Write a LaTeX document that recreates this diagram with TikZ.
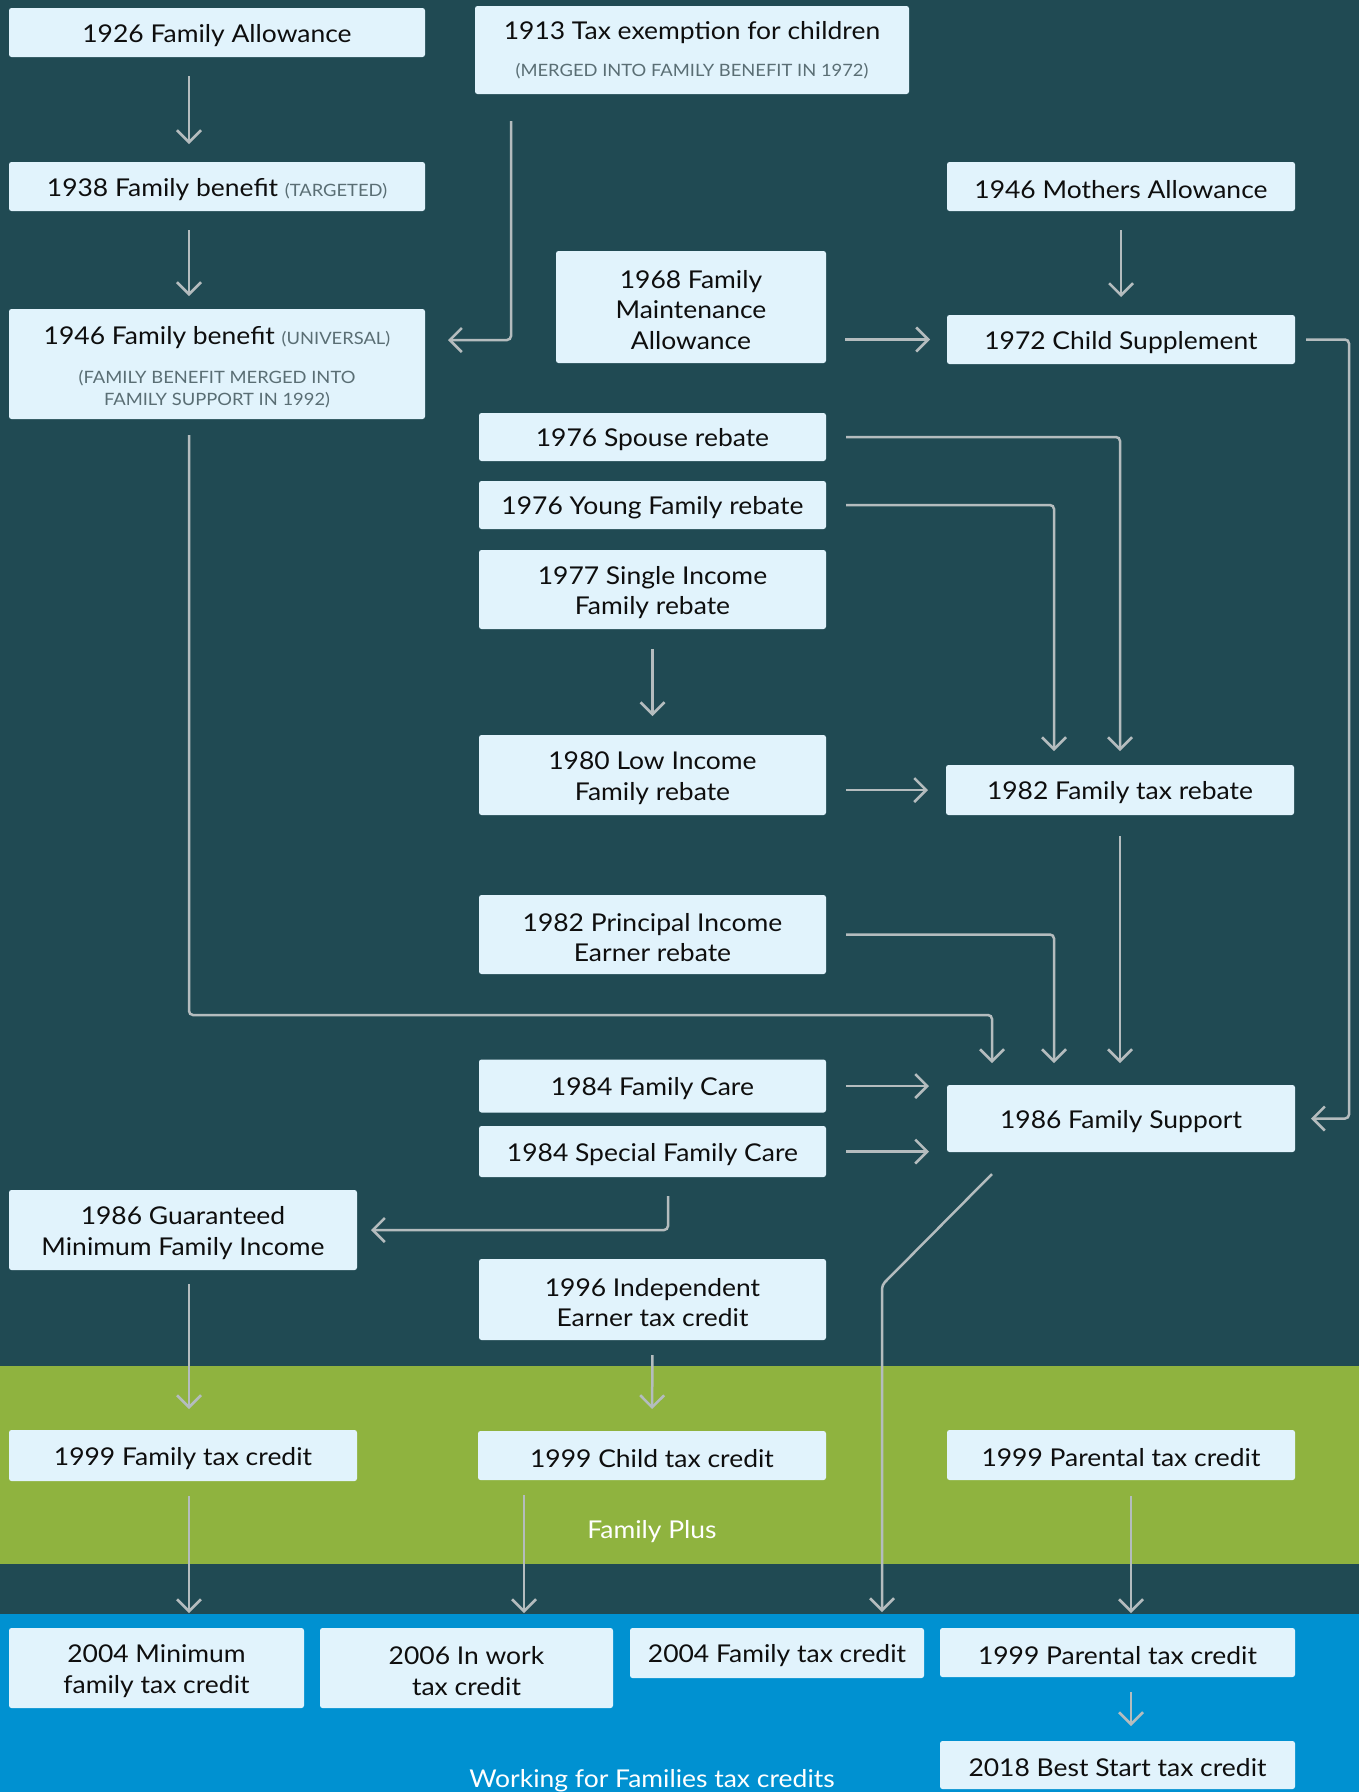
\documentclass[tikz,border=0pt]{standalone}
\usepackage{fontspec}
\setmainfont{Lato}[FakeStretch=1.08]
\usetikzlibrary{arrows.meta,calc}
\definecolor{bgc}{HTML}{204A53}
\definecolor{greenc}{HTML}{8FB33F}
\definecolor{bluec}{HTML}{0091D1}
\definecolor{boxc}{HTML}{E1F3FC}
\definecolor{lnc}{HTML}{B4BCBE}
\definecolor{txt}{HTML}{0E0E0E}
\definecolor{subc}{HTML}{5A6E74}
\newcommand{\mainfs}{\fontsize{24.5}{30.5}\selectfont}
\newcommand{\subfs}{\fontsize{17}{23}\selectfont\color{subc}}
\newcommand{\sx}{\rule{0pt}{24pt}}
\begin{document}
\begin{tikzpicture}[x=1pt,y=-1pt,
  box/.style={fill=boxc, rounded corners=2.5pt, inner sep=0pt, outer sep=0pt, align=center, font=\mainfs, text=txt},
  arr/.style={draw=lnc, line width=2.5pt, -{Straight Barb[length=12pt,width=24pt,line width=2.5pt]}, rounded corners=4pt, shorten <=19pt, shorten >=18pt},
  band/.style={font=\mainfs, text=white}]
% background and bands
\fill[bgc] (0,0) rectangle (1359,1792);
\fill[greenc] (0,1366) rectangle (1359,1564);
\fill[bluec] (0,1614) rectangle (1359,1792);
\useasboundingbox (0,0) rectangle (1359,1792);
\node[band] (lplus) at (652,1532) {Family Plus};
\node[band] (lwff) at (652,1781) {Working for Families tax credits};
% boxes
\node[box, minimum width=416pt, minimum height=49pt] (a1926) at (217,32.5) {\sx1926 Family Allowance};
\node[box, minimum width=434pt, minimum height=88pt] (a1913) at (692,50) {1913 Tax exemption for children\\[6pt]{\subfs(MERGED INTO FAMILY BENEFIT IN 1972)}};
\node[box, minimum width=416pt, minimum height=49pt] (a1938) at (217,186.5) {\sx1938 Family benefit {\subfs(TARGETED)}};
\node[box, minimum width=348pt, minimum height=49pt] (a1946m) at (1121,186.5) {\sx1946 Mothers Allowance};
\node[box, minimum width=270pt, minimum height=112pt] (a1968) at (691,307) {\sx1968 Family\\Maintenance\\Allowance};
\node[box, minimum width=416pt, minimum height=110pt] (a1946fb) at (217,364) {\sx1946 Family benefit {\subfs(UNIVERSAL)}\\[8pt]{\subfs(FAMILY BENEFIT MERGED INTO}\\[-8.5pt]{\subfs FAMILY SUPPORT IN 1992)}};
\node[box, minimum width=348pt, minimum height=49pt] (a1972) at (1121,339.5) {\sx1972 Child Supplement};
\node[box, minimum width=347pt, minimum height=48pt] (a1976s) at (652.5,437) {\sx1976 Spouse rebate};
\node[box, minimum width=347pt, minimum height=48pt] (a1976y) at (652.5,505) {\sx1976 Young Family rebate};
\node[box, minimum width=347pt, minimum height=79pt] (a1977) at (652.5,589.5) {\sx1977 Single Income\\Family rebate};
\node[box, minimum width=347pt, minimum height=80pt] (a1980) at (652.5,775) {\sx1980 Low Income\\Family rebate};
\node[box, minimum width=348pt, minimum height=50pt] (a1982r) at (1120,790) {\sx1982 Family tax rebate};
\node[box, minimum width=347pt, minimum height=79pt] (a1982p) at (652.5,934.5) {\sx1982 Principal Income\\Earner rebate};
\node[box, minimum width=347pt, minimum height=53pt] (a1984fc) at (652.5,1086) {\sx1984 Family Care};
\node[box, minimum width=347pt, minimum height=51pt] (a1984sfc) at (652.5,1151.5) {\sx1984 Special Family Care};
\node[box, minimum width=348pt, minimum height=67pt] (a1986fs) at (1121,1118.5) {\sx1986 Family Support};
\node[box, minimum width=348pt, minimum height=80pt] (a1986g) at (183,1230) {\sx1986 Guaranteed\\Minimum Family Income};
\node[box, minimum width=347pt, minimum height=81pt] (a1996) at (652.5,1299.5) {\sx1996 Independent\\Earner tax credit};
\node[box, minimum width=348pt, minimum height=51pt] (a1999f) at (183,1455.5) {\sx1999 Family tax credit};
\node[box, minimum width=348pt, minimum height=49pt] (a1999c) at (652,1455.5) {\sx1999 Child tax credit};
\node[box, minimum width=348pt, minimum height=50pt] (a1999p) at (1121,1455) {\sx1999 Parental tax credit};
\node[box, minimum width=295pt, minimum height=80pt] (a2004m) at (156.5,1668) {\sx2004 Minimum\\family tax credit};
\node[box, minimum width=293pt, minimum height=80pt] (a2006) at (466.5,1668) {\sx2006 In work\\tax credit};
\node[box, minimum width=294pt, minimum height=50pt] (a2004f) at (777,1653) {\sx2004 Family tax credit};
\node[box, minimum width=355pt, minimum height=49pt] (a1999pb) at (1117.5,1652.5) {\sx1999 Parental tax credit};
\node[box, minimum width=355pt, minimum height=48pt] (a2018) at (1117.5,1765) {\sx2018 Best Start tax credit};
% helper coordinates
\coordinate (cL) at (189,0);
\coordinate (k1) at (511,340);
\coordinate (rr) at (1349,0);
\coordinate (cJ) at (1054,0);
\coordinate (k2) at (992,1015);
\coordinate (c668) at (668,0);
\coordinate (k3) at (882,1285);
\coordinate (c524) at (524,0);
\coordinate (cP) at (1131,0);
\path ([yshift=-22pt]a1986fs.south) coordinate (fsb);
% connectors
\draw[arr] (a1926.south -| cL) -- (a1938.north -| cL);
\draw[arr, shorten >=13pt] (a1938.south -| cL) -- (a1946fb.north -| cL);
\draw[arr, shorten <=27pt, shorten >=23pt] (a1913.south -| k1) -- (k1) -- (a1946fb.east |- k1);
\draw[arr, shorten >=17pt] (a1968.east |- a1972.west) -- (a1972.west);
\draw[arr] (a1946m.south) -- (a1972.north);
\draw[arr, shorten <=11pt, shorten >=16pt] (a1972.east) -- (a1972.east -| rr) -- (a1986fs.east -| rr) -- (a1986fs.east);
\draw[arr, shorten <=20pt, shorten >=14pt] (a1976s.east) -| (a1982r.north);
\draw[arr, shorten <=20pt, shorten >=14pt] (a1976y.east) -| (a1982r.north -| cJ);
\draw[arr, shorten <=20pt, shorten >=19pt] (a1977.south) -- (a1980.north);
\draw[arr, shorten <=20pt] (a1980.east |- a1982r.west) -- (a1982r.west);
\draw[arr, shorten <=21pt, shorten >=22pt] (a1982r.south) -- (a1986fs.north -| a1982r.south);
\draw[arr, shorten <=20pt, shorten >=22pt] (a1982p.east) -| (a1986fs.north -| cJ);
\draw[arr, shorten <=16pt, shorten >=22pt] (a1946fb.south -| cL) |- (k2) -- (a1986fs.north -| k2);
\draw[arr, shorten <=20pt] (a1984fc.east) -- (a1984fc.east -| a1986fs.west);
\draw[arr, shorten <=20pt] (a1984sfc.east) -- (a1984sfc.east -| a1986fs.west);
\draw[arr, shorten <=19pt, shorten >=14pt] (a1984sfc.south -| c668) |- (a1986g.east);
\draw[arr, shorten <=14pt, shorten >=21pt] (a1986g.south -| cL) -- (a1999f.north -| cL);
\draw[arr, shorten <=15pt, shorten >=22pt] (a1996.south) -- (a1999c.north);
\draw[arr, shorten <=0pt, shorten >=16pt] (fsb -| k2) -- (k3) -- (a2004f.north -| k3);
\draw[arr, shorten <=15pt, shorten >=15pt] (a1999f.south -| cL) -- (a2004m.north -| cL);
\draw[arr, shorten <=15pt, shorten >=15pt] (a1999c.south -| c524) -- (a2006.north -| c524);
\draw[arr, shorten <=16pt, shorten >=15pt] (a1999p.south -| cP) -- (a1999pb.north -| cP);
\draw[arr, shorten <=15pt, shorten >=15pt] (a1999pb.south -| cP) -- (a2018.north -| cP);
\end{tikzpicture}
\end{document}
